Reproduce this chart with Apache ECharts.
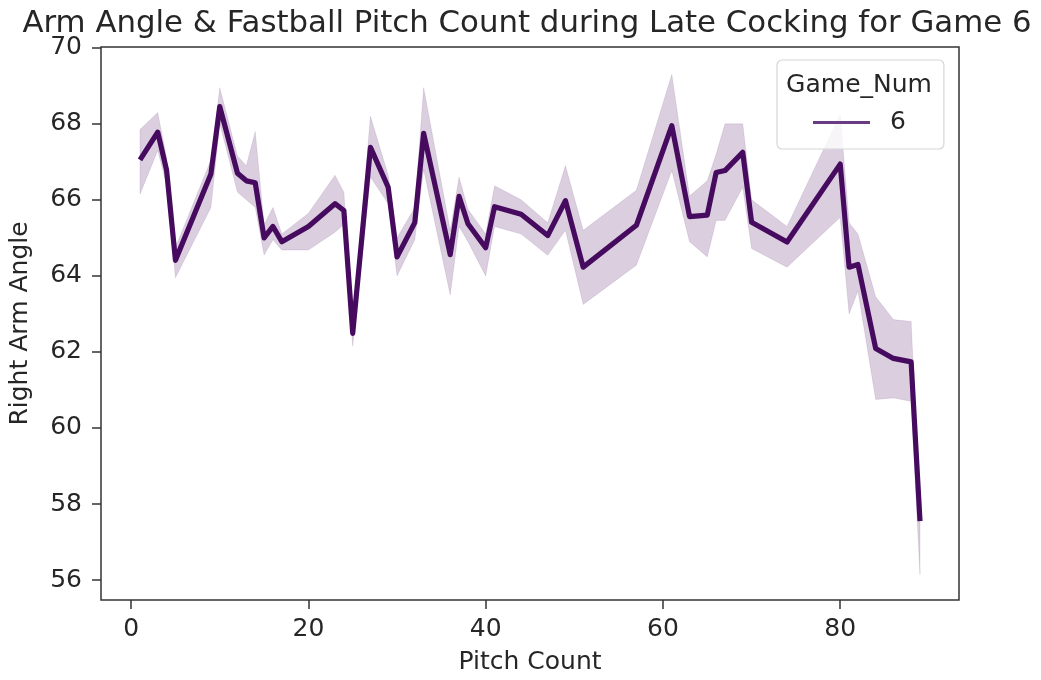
<!DOCTYPE html>
<html>
<head>
<meta charset="utf-8">
<script src="https://cdn.jsdelivr.net/npm/echarts@6/dist/echarts.min.js"></script>
<style>
html,body{margin:0;padding:0;background:#fff;}
#chart{width:1041px;height:680px;}
</style>
</head>
<body>
<div id="chart"></div>
<script>
// ---- data ----
const pitchCount = [1,3,4,5,9,10,12,13,14,15,16,17,20,23,24,25,27,29,30,32,33,36,37,38,40,41,44,47,49,51,57,61,63,65,66,67,69,70,74,80,81,82,84,86,88,89];
const armAngle   = [67.05,67.78,66.78,64.41,66.68,68.45,66.7,66.5,66.45,65.0,65.3,64.9,65.3,65.9,65.72,62.49,67.38,66.33,64.5,65.4,67.75,64.56,66.09,65.37,64.74,65.82,65.62,65.06,65.98,64.23,65.33,67.95,65.56,65.6,66.72,66.77,67.25,65.41,64.89,66.94,64.23,64.3,62.09,61.83,61.74,57.55];
const ciLower    = [66.15,67.3,66.4,63.95,65.8,68.0,66.2,66.0,65.8,64.55,64.95,64.68,64.68,65.15,65.35,62.15,66.6,65.9,64.0,64.95,66.8,63.5,65.3,64.9,64.0,65.3,65.1,64.54,65.2,63.25,64.28,66.77,64.9,64.5,65.46,65.46,66.33,64.72,64.23,65.54,63.0,63.6,60.75,60.79,60.7,56.15];
const ciUpper    = [67.85,68.3,67.1,64.75,67.05,68.95,67.15,66.9,67.8,65.35,65.8,65.1,65.65,66.65,66.2,62.75,68.2,66.65,65.0,65.8,68.95,65.2,66.6,65.75,65.1,66.37,66.0,65.4,66.9,65.2,66.25,69.3,66.1,66.5,67.2,68.0,68.0,66.0,65.3,68.25,65.4,65.1,63.45,62.85,62.8,57.7];
const xTicks = [0,20,40,60,80];
const yTicks = [56,58,60,62,64,66,68,70];
const seriesName = '6';
const legendTitle = 'Game_Num';
const chartTitle = 'Arm Angle & Fastball Pitch Count during Late Cocking for Game 6';
const xName = 'Pitch Count';
const yName = 'Right Arm Angle';

const lineColor = '#460b5e';
const legendLineColor = '#6a3a82';
const bandColor = 'rgba(70,11,94,0.2)';
const textColor = '#262626';
const font = 'DejaVu Sans';

const chart = echarts.init(document.getElementById('chart'), null, {renderer:'canvas'});

const option = {
  animation: false,
  backgroundColor: '#fff',
  textStyle: {fontFamily: font, color: textColor},
  grid: {left: 100, right: 82, top: 47, bottom: 80, show: true, borderColor: '#333', borderWidth: 1.5, backgroundColor: 'transparent', containLabel: false},
  xAxis: {
    type: 'value', min: -3.4, max: 93.4,
    name: xName, nameLocation: 'middle', nameGap: 50,
    nameTextStyle: {fontFamily: font, fontSize: 25, color: textColor},
    axisLine: {show: false, onZero: false},
    splitLine: {show: false},
    axisTick: {show: true, length: 9, inside: false, customValues: xTicks, lineStyle: {color: '#333', width: 1.5}},
    axisLabel: {customValues: xTicks, margin: 17, fontFamily: font, fontSize: 25, color: textColor}
  },
  yAxis: {
    type: 'value', min: 55.476, max: 70.02,
    name: yName, nameLocation: 'middle', nameGap: 68,
    nameTextStyle: {fontFamily: font, fontSize: 25, color: textColor},
    axisLine: {show: false, onZero: false},
    splitLine: {show: false},
    axisTick: {show: true, length: 9, inside: false, customValues: yTicks, lineStyle: {color: '#333', width: 1.5}},
    axisLabel: {customValues: yTicks, margin: 19, fontFamily: font, fontSize: 25, color: textColor}
  },
  legend: {
    show: true,
    data: [seriesName],
    left: 777, top: 60,
    padding: [50, 38, 14, 36],
    itemWidth: 57, itemHeight: 3,
    icon: 'rect',
    backgroundColor: 'rgba(255,255,255,0.8)',
    borderColor: '#d6d6d6', borderWidth: 1.2, borderRadius: 5,
    textStyle: {fontFamily: font, fontSize: 25, color: textColor, padding: [0,0,0,15]},
    itemStyle: {color: legendLineColor, borderWidth: 0},
    selectedMode: false,
    z: 10
  },
  graphic: [
    {type: 'text', x: 527, y: 24, z: 100,
     style: {text: chartTitle, fontFamily: font, fontSize: 30.8, fill: textColor, align: 'center', verticalAlign: 'middle'}},
    {type: 'text', x: 859, y: 85, z: 100,
     style: {text: legendTitle, fontFamily: font, fontSize: 25, fill: textColor, align: 'center', verticalAlign: 'middle'}}
  ],
  series: [
    {
      type: 'custom',
      name: 'ci',
      clip: true,
      silent: true,
      z: 1,
      data: pitchCount.map((x, i) => [x, armAngle[i]]),
      renderItem: function (params, api) {
        if (params.dataIndex !== 0) return null;
        const pts = [];
        for (let i = 0; i < pitchCount.length; i++) pts.push(api.coord([pitchCount[i], ciUpper[i]]));
        for (let i = pitchCount.length - 1; i >= 0; i--) pts.push(api.coord([pitchCount[i], ciLower[i]]));
        return {type: 'polygon', shape: {points: pts}, style: {fill: bandColor, stroke: 'rgba(70,11,94,0.12)', lineWidth: 0.8}};
      }
    },
    {
      type: 'line',
      name: seriesName,
      data: pitchCount.map((x, i) => [x, armAngle[i]]),
      symbol: 'none',
      showSymbol: false,
      clip: true,
      z: 3,
      lineStyle: {color: lineColor, width: 5.2, join: 'round', cap: 'butt'},
      itemStyle: {color: lineColor}
    }
  ]
};
chart.setOption(option);
</script>
</body>
</html>
